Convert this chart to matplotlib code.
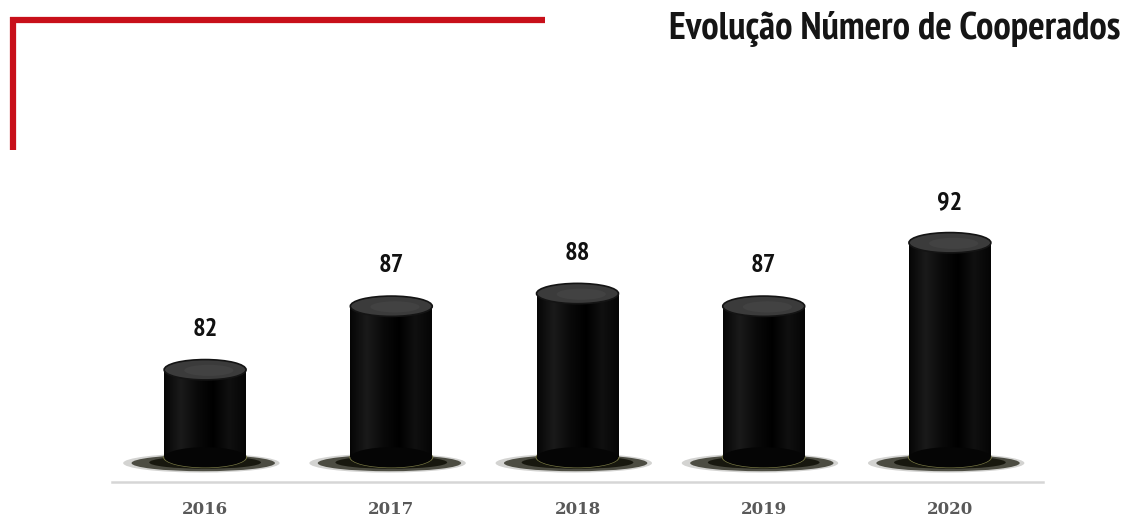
import numpy as np
import matplotlib.pyplot as plt
from matplotlib import font_manager
from matplotlib.patches import Ellipse, Rectangle
from matplotlib.colors import LinearSegmentedColormap
from matplotlib.lines import Line2D

# dados
anos = ['2016', '2017', '2018', '2019', '2020']
cooperados = [82, 87, 88, 87, 92]
base = 75.1  # valor onde os cilindros começam


def peso(f):
    wt = f.weight
    if isinstance(wt, str):
        wt = font_manager.weight_dict.get(wt, 400)
    return wt


def largura(f):
    if 'Narrow' in f.name:
        return 0
    return {'semi-condensed': 1, 'condensed': 2}.get(f.stretch, 3)


# procura uma fonte estreita e negrito (tipo Arial Narrow Bold)
cands = [f for f in font_manager.fontManager.ttflist
         if ('Narrow' in f.name or 'Condensed' in f.name
             or f.stretch in ('condensed', 'semi-condensed', 'extra-condensed'))
         and peso(f) >= 600 and f.style == 'normal']
cands.sort(key=lambda f: (largura(f), abs(peso(f) - 700)))
if cands:
    fonte = dict(fname=cands[0].fname)
    tipo = largura(cands[0])
else:
    fonte = dict(family=['Liberation Sans', 'DejaVu Sans'], weight='bold')
    tipo = 4
tam_t = {0: 28, 1: 27.5, 2: 27.5, 3: 27, 4: 21}[tipo]
tam_v = {0: 19, 1: 19, 2: 19, 3: 19, 4: 16}[tipo]
fp_title = font_manager.FontProperties(size=tam_t, **fonte)
fp_val = font_manager.FontProperties(size=tam_v, **fonte)

fig = plt.figure(figsize=(11.27, 5.22), dpi=100)
fig.patch.set_facecolor('white')

# linhas vermelhas do cabeçalho
fig.add_artist(Line2D([10 / 1127, 545 / 1127], [1 - 20 / 522, 1 - 20 / 522],
                      color='#c8101a', lw=4.5, solid_capstyle='butt'))
fig.add_artist(Line2D([13 / 1127, 13 / 1127], [1 - 17 / 522, 1 - 150 / 522],
                      color='#c8101a', lw=4.5, solid_capstyle='butt'))

fig.text(1120 / 1127, 1 - 29 / 522, 'Evolução Número de Cooperados',
         ha='right', va='center', fontproperties=fp_title, color='#151515')

ax = fig.add_axes([112 / 1127, 40 / 522, 931 / 1127, 302 / 522])
ax.set_xlim(-0.5, 4.5)
ax.set_ylim(73.16, 96.94)

w = 0.44
eh = 1.6  # altura da elipse em unidades de dados
body_cmap = LinearSegmentedColormap.from_list(
    'body', ['#050505', '#1a1a1a', '#0a0a0a', '#000000', '#101010', '#050505'])
grad = np.linspace(0, 1, 256).reshape(1, -1)

for i, v in enumerate(cooperados):
    # sombra no chão
    ax.add_patch(Ellipse((i - 0.02, 74.65), 0.84, 1.5, facecolor='#505048',
                         edgecolor='none', alpha=0.25, zorder=1))
    ax.add_patch(Ellipse((i - 0.01, 74.65), 0.77, 1.28, facecolor='#2a2a1e',
                         edgecolor='none', alpha=0.8, zorder=1))
    ax.add_patch(Ellipse((i, 74.7), 0.6, 1.0, facecolor='#15150c',
                         edgecolor='none', alpha=0.95, zorder=1))
    # corpo do cilindro com gradiente
    rect = Rectangle((i - w / 2, base), w, v - base, facecolor='none',
                     edgecolor='none')
    ax.add_patch(rect)
    im = ax.imshow(grad, cmap=body_cmap, aspect='auto',
                   extent=(i - w / 2, i + w / 2, base, v), zorder=2)
    im.set_clip_path(rect)
    ax.add_patch(Ellipse((i, base), w + 0.01, eh + 0.1, facecolor='#7d7d48',
                         edgecolor='none', zorder=1.5))
    ax.add_patch(Ellipse((i, base), w, eh, facecolor='#050505',
                         edgecolor='none', zorder=2))
    # tampa
    ax.add_patch(Ellipse((i, v), w, eh, facecolor='#3b3b3b',
                         edgecolor='#141414', lw=1.2, zorder=3))
    ax.add_patch(Ellipse((i + 0.02, v - 0.05), w * 0.6, eh * 0.55,
                         facecolor='#474747', edgecolor='none', alpha=0.6,
                         zorder=3))
    ax.annotate(str(v), (i, v), xytext=(0, 29), textcoords='offset points',
                ha='center', va='center', fontproperties=fp_val,
                color='#111111')

ax.set_xticks(range(len(anos)))
ax.set_xticklabels(anos, fontsize=12, fontweight='bold', color='#595959',
                   family=['DejaVu Serif'])
ax.tick_params(axis='x', length=0, pad=14)
ax.set_yticks([])
for s in ['top', 'left', 'right']:
    ax.spines[s].set_visible(False)
ax.spines['bottom'].set_color('#d6d6d6')
ax.spines['bottom'].set_linewidth(1.8)
ax.set_facecolor('none')

fig.savefig('out.png', dpi=100)
